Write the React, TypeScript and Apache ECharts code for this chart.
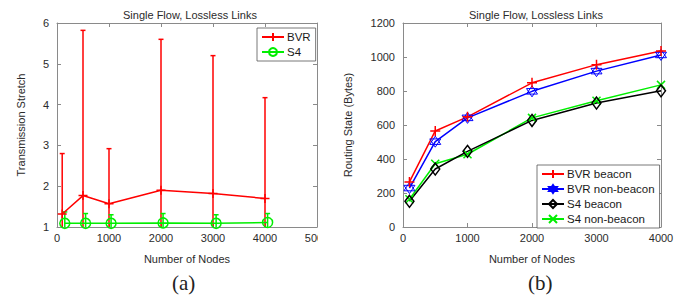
import React, { useEffect, useRef } from 'react';
import * as echarts from 'echarts';

// ---------- data ----------
const nodesBVR = [100, 500, 1000, 2000, 3000, 4000];
const bvrStretch = [1.32, 1.77, 1.57, 1.9, 1.82, 1.7];
const bvrStretchHigh = [2.8, 5.82, 2.92, 5.6, 5.2, 4.17];
const bvrStretchLow = [0.9, 0.9, 0.9, 0.9, 0.9, 0.9];

const nodesS4 = [150, 550, 1040, 2040, 3060, 4050];
const s4Stretch = [1.09, 1.09, 1.09, 1.1, 1.09, 1.11];
const s4StretchHigh = [1.37, 1.33, 1.3, 1.33, 1.3, 1.33];
const s4StretchLow = [0.85, 0.85, 0.85, 0.85, 0.85, 0.85];

const nodesState = [100, 500, 1000, 2000, 3000, 4000];
const bvrBeacon = [265, 565, 648, 848, 955, 1035];
const bvrNonBeacon = [229, 502, 642, 798, 917, 1012];
const s4Beacon = [151, 341, 445, 627, 729, 801];
const s4NonBeacon = [163, 372, 428, 642, 743, 836];

const titleText = 'Single Flow, Lossless Links';

// ---------- style helpers ----------
const FONT = '"Liberation Sans", Arial, Helvetica, sans-serif';
const TXT = '#2b2b2b';
const AX = '#8a8a8a';
const RED = '#ff0000';
const GREEN = '#00ee00';
const BLUE = '#0000ff';
const BLACK = '#000000';

const PLUS = 'path://M0,-10 L0,10 M-10,0 L10,0';
const CROSS = 'path://M-10,-10 L10,10 M-10,10 L10,-10';
const HEXAGRAM = 'path://M0,-10 L8.66,5 L-8.66,5 Z M0,10 L8.66,-5 L-8.66,-5 Z';

const plainNumber = (v: number) => String(Math.round(v * 1000) / 1000);

function axisPairX(grid: number, min: number, max: number, interval: number, name: string) {
  const common = {
    gridIndex: grid,
    type: 'value',
    min,
    max,
    interval,
    axisLine: { show: true, onZero: false, lineStyle: { color: AX, width: 1 } },
    axisTick: { show: true, inside: true, length: 4, lineStyle: { color: AX } },
    splitLine: { show: false },
  };
  return [
    {
      ...common,
      position: 'bottom',
      name,
      nameLocation: 'middle',
      nameGap: 26,
      nameTextStyle: { fontFamily: FONT, fontSize: 11, color: TXT },
      axisLabel: { fontFamily: FONT, fontSize: 11, color: TXT, margin: 5, formatter: plainNumber },
    },
    { ...common, position: 'top', axisLabel: { show: false } },
  ];
}

function axisPairY(grid: number, min: number, max: number, interval: number, name: string, gap: number) {
  const common = {
    gridIndex: grid,
    type: 'value',
    min,
    max,
    interval,
    axisLine: { show: true, onZero: false, lineStyle: { color: AX, width: 1 } },
    axisTick: { show: true, inside: true, length: 4, lineStyle: { color: AX } },
    splitLine: { show: false },
  };
  return [
    {
      ...common,
      position: 'left',
      name,
      nameLocation: 'middle',
      nameGap: gap,
      nameTextStyle: { fontFamily: FONT, fontSize: 11, color: TXT },
      axisLabel: { fontFamily: FONT, fontSize: 11, color: TXT, margin: 8, formatter: plainNumber },
    },
    { ...common, position: 'right', axisLabel: { show: false } },
  ];
}

function errorBars(name: string, xs: number[], lo: number[], hi: number[], color: string) {
  return {
    type: 'custom',
    name,
    xAxisIndex: 0,
    yAxisIndex: 0,
    clip: true,
    silent: true,
    data: xs.map((x, i) => [x, lo[i], hi[i]]),
    renderItem: (_params: any, api: any) => {
      const x = api.value(0);
      const pLo = api.coord([x, api.value(1)]);
      const pHi = api.coord([x, api.value(2)]);
      const cap = 2.5;
      const style = { stroke: color, lineWidth: 1.5 };
      return {
        type: 'group',
        children: [
          { type: 'line', shape: { x1: pLo[0], y1: pLo[1], x2: pHi[0], y2: pHi[1] }, style },
          { type: 'line', shape: { x1: pHi[0] - cap, y1: pHi[1], x2: pHi[0] + cap, y2: pHi[1] }, style },
          { type: 'line', shape: { x1: pLo[0] - cap, y1: pLo[1], x2: pLo[0] + cap, y2: pLo[1] }, style },
        ],
      };
    },
  };
}

function lineSeries(
  name: string,
  xs: number[],
  ys: number[],
  color: string,
  symbol: string,
  size: number | number[],
  bw: number
) {
  return {
    type: 'line',
    name,
    xAxisIndex: 0,
    yAxisIndex: 0,
    data: xs.map((x, i) => [x, ys[i]]),
    symbol,
    symbolSize: size,
    showSymbol: true,
    lineStyle: { color, width: 1.5 },
    itemStyle: { color: 'rgba(255,255,255,0)', borderColor: color, borderWidth: bw },
    emphasis: { disabled: true },
    z: 3,
  };
}

function legendCfg(left: number, top: number, data: string[]) {
  return {
    left,
    top,
    orient: 'vertical',
    data: data.map((name) => ({ name, itemStyle: { color: 'rgba(255,255,255,0)' } })),
    itemWidth: 22,
    itemHeight: 10,
    itemGap: 3,
    padding: [3, 5, 3, 4],
    borderColor: '#555',
    borderWidth: 0.8,
    backgroundColor: '#ffffff',
    textStyle: { fontFamily: FONT, fontSize: 11.5, color: '#1a1a1a', lineHeight: 11, padding: [0, 0, 0, -2] },
    selectedMode: false,
  };
}

function leftOption() {
  return {
    animation: false,
    backgroundColor: '#ffffff',
    title: {
      text: titleText,
      left: 118,
      top: 4,
      textStyle: { fontFamily: FONT, fontSize: 11, fontWeight: 'normal', color: TXT },
    },
    grid: [{ left: 57, top: 23, width: 260, height: 204, outerBoundsMode: 'none', containLabel: false }],
    xAxis: axisPairX(0, 0, 5000, 1000, 'Number of Nodes'),
    yAxis: axisPairY(0, 1, 6, 1, 'Transmission Stretch', 31),
    legend: legendCfg(257, 28, ['BVR', 'S4']),
    series: [
      errorBars('BVR error', nodesBVR, bvrStretchLow, bvrStretchHigh, RED),
      errorBars('S4 error', nodesS4, s4StretchLow, s4StretchHigh, GREEN),
      lineSeries('BVR', nodesBVR, bvrStretch, RED, PLUS, 9, 1.5),
      lineSeries('S4', nodesS4, s4Stretch, GREEN, 'circle', 10, 1.5),
    ],
    graphic: [
      {
        type: 'text',
        left: 172,
        top: 272,
        style: { text: '(a)', font: '21px "Liberation Serif", "Times New Roman", serif', fill: '#222' },
      },
    ],
  };
}

function rightOption() {
  return {
    animation: false,
    backgroundColor: '#ffffff',
    title: {
      text: titleText,
      left: 146,
      top: 4,
      textStyle: { fontFamily: FONT, fontSize: 11, fontWeight: 'normal', color: TXT },
    },
    grid: [{ left: 85, top: 23, width: 258, height: 204, outerBoundsMode: 'none', containLabel: false }],
    xAxis: axisPairX(0, 0, 4000, 1000, 'Number of Nodes'),
    yAxis: axisPairY(0, 0, 1200, 200, 'Routing State (Bytes)', 50),
    legend: legendCfg(219, 165, ['BVR beacon', 'BVR non-beacon', 'S4 beacon', 'S4 non-beacon']),
    series: [
      lineSeries('S4 non-beacon', nodesState, s4NonBeacon, GREEN, CROSS, 8, 1.5),
      lineSeries('S4 beacon', nodesState, s4Beacon, BLACK, 'diamond', [9, 12], 1.5),
      lineSeries('BVR non-beacon', nodesState, bvrNonBeacon, BLUE, HEXAGRAM, 11, 1),
      lineSeries('BVR beacon', nodesState, bvrBeacon, RED, PLUS, 10, 1.5),
    ],
    graphic: [
      {
        type: 'text',
        left: 210,
        top: 272,
        style: { text: '(b)', font: '21px "Liberation Serif", "Times New Roman", serif', fill: '#222' },
      },
    ],
  };
}

function Chart({ left, width, option }: { left: number; width: number; option: any }) {
  const ref = useRef<HTMLDivElement>(null);
  useEffect(() => {
    if (!ref.current) return;
    const chart = echarts.init(ref.current, undefined, { renderer: 'svg' });
    chart.setOption(option);
    return () => chart.dispose();
  }, []);
  return (
    <div
      ref={ref}
      style={{ position: 'absolute', left, top: 0, width, height: 303, overflow: 'hidden' }}
    />
  );
}

export default function App() {
  return (
    <div style={{ position: 'fixed', left: 0, top: 0, width: 695, height: 303, background: '#fff' }}>
      <Chart left={0} width={318} option={leftOption()} />
      <Chart left={318} width={377} option={rightOption()} />
    </div>
  );
}
